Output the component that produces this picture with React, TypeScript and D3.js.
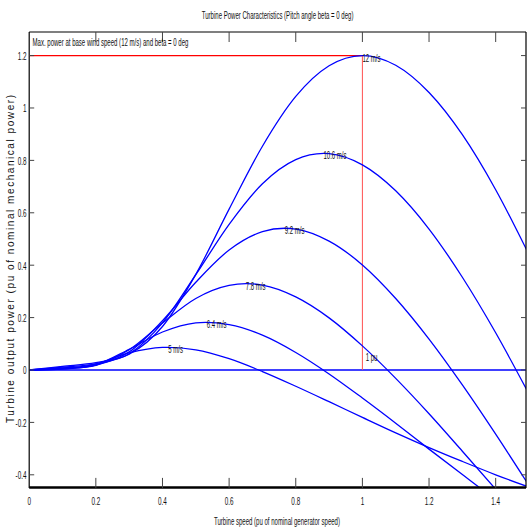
import React from "react";
import * as d3 from "d3";

// Turbine speed (pu) sample points
const speedPu = [0, 0.1, 0.2, 0.3, 0.4, 0.5, 0.6, 0.7, 0.8, 0.9, 1.0, 1.1, 1.2, 1.3, 1.4, 1.5];

// Turbine output power (pu) for each wind speed
const power12 = [0, 0.014, 0.028, 0.060, 0.166, 0.365, 0.614, 0.854, 1.044, 1.161, 1.200, 1.163, 1.059, 0.898, 0.688, 0.440];
const power106 = [0, 0.011, 0.023, 0.062, 0.180, 0.364, 0.556, 0.711, 0.803, 0.826, 0.783, 0.684, 0.538, 0.354, 0.142, -0.092];
const power92 = [0, 0.008, 0.019, 0.069, 0.188, 0.335, 0.458, 0.528, 0.538, 0.492, 0.401, 0.273, 0.118, -0.057, -0.245, -0.441];
const power78 = [0, 0.006, 0.018, 0.077, 0.179, 0.273, 0.323, 0.324, 0.279, 0.199, 0.092, -0.032, -0.167, -0.310, -0.455, -0.601];
const power64 = [0, 0.004, 0.020, 0.079, 0.145, 0.180, 0.173, 0.133, 0.067, -0.015, -0.107, -0.203, -0.302, -0.399, -0.495, -0.587];
const power5 = [0, 0.003, 0.023, 0.065, 0.086, 0.077, 0.043, -0.006, -0.062, -0.121, -0.181, -0.240, -0.296, -0.349, -0.400, -0.447];

const windLabels = ["12 m/s", "10.6 m/s", "9.2 m/s", "7.8 m/s", "6.4 m/s", "5 m/s"];
const peakSpeed = [1.0, 0.883, 0.767, 0.65, 0.533, 0.417];
const peakPower = [1.2, 0.827, 0.541, 0.33, 0.182, 0.087];

const xTicks = [0, 0.2, 0.4, 0.6, 0.8, 1, 1.2, 1.4];
const yTicks = [-0.4, -0.2, 0, 0.2, 0.4, 0.6, 0.8, 1, 1.2];

const maxPowerSpeed = 1.0;
const maxPower = 1.2;
const onePuLabelX = 1.01;
const onePuLabelY = 0.035;

const title = "Turbine Power Characteristics (Pitch angle beta = 0 deg)";
const annotation = "Max. power at base wind speed (12 m/s) and beta = 0 deg";
const xLabel = "Turbine speed (pu of nominal generator speed)";
const yLabel = "Turbine output power (pu of nominal mechanical power)";

const W = 528;
const H = 529;
const L = 29.2, R = 526, T = 32, B = 487.9;
const SX = 0.55;
const FONT = "'Liberation Sans', Arial, sans-serif";

function SText({ x, y, anchor = "start", size = 11, children }: any) {
  return (
    <text
      transform={`translate(${x},${y}) scale(${SX},1)`}
      textAnchor={anchor}
      fontSize={size}
      fontFamily={FONT}
      fill="#111"
    >
      {children}
    </text>
  );
}

export default function App() {
  const x = d3.scaleLinear().domain([0, 1.491]).range([L, R]);
  const y = d3.scaleLinear().domain([-0.45, 1.29]).range([B, T]);
  const series = [power12, power106, power92, power78, power64, power5];
  const line = d3
    .line<number>()
    .x((_, i) => x(speedPu[i]))
    .y((d) => y(d))
    .curve(d3.curveCatmullRom.alpha(0));

  return (
    <svg
      width={W}
      height={H}
      style={{ position: "absolute", left: 0, top: 0, background: "#fff" }}
    >
      <defs>
        <clipPath id="plotClip">
          <rect x={L} y={T} width={R - L} height={B - T} />
        </clipPath>
      </defs>
      <rect x={0} y={0} width={W} height={H} fill="#fff" />

      <g clipPath="url(#plotClip)">
        {/* zero line */}
        <line x1={x(0)} x2={R} y1={y(0)} y2={y(0)} stroke="#0000ff" strokeWidth={1.4} />
        {/* max power lines */}
        <line x1={x(0)} x2={x(maxPowerSpeed)} y1={y(maxPower)} y2={y(maxPower)} stroke="#ff0000" strokeWidth={1.3} />
        <line x1={x(maxPowerSpeed)} x2={x(maxPowerSpeed)} y1={y(maxPower)} y2={y(0)} stroke="#ff5050" strokeWidth={1} />
        {series.map((s, i) => (
          <path key={i} d={line(s) || ""} fill="none" stroke="#0000ff" strokeWidth={1.3} />
        ))}
      </g>

      {/* axes box */}
      <line x1={L} x2={L} y1={T} y2={B} stroke="#000" strokeWidth={1.2} />
      <line x1={L} x2={R} y1={T} y2={T} stroke="#000" strokeWidth={1.2} />
      <line x1={R} x2={R} y1={T} y2={B} stroke="#000" strokeWidth={1.2} />
      <line x1={L} x2={R} y1={B - 0.5} y2={B - 0.5} stroke="#000" strokeWidth={2.5} />

      {/* x ticks */}
      {xTicks.map((t) => (
        <g key={"xt" + t}>
          {t > 0 && (
            <>
              <line x1={x(t)} x2={x(t)} y1={B} y2={B - 10} stroke="#444" strokeWidth={1} />
              <line x1={x(t)} x2={x(t)} y1={T} y2={T + 10} stroke="#444" strokeWidth={1} />
            </>
          )}
          <SText x={x(t)} y={505} anchor="middle" size={11.5}>
            {String(t)}
          </SText>
        </g>
      ))}

      {/* y ticks */}
      {yTicks.map((t) => (
        <g key={"yt" + t}>
          <line x1={L} x2={L + 5} y1={y(t)} y2={y(t)} stroke="#444" strokeWidth={1} />
          <line x1={R} x2={R - 5} y1={y(t)} y2={y(t)} stroke="#444" strokeWidth={1} />
          <SText x={26.5} y={y(t) + 4.5} anchor="end" size={11.5}>
            {String(t)}
          </SText>
        </g>
      ))}

      {/* curve labels */}
      {windLabels.map((lab, i) => (
        <SText key={lab} x={x(peakSpeed[i])} y={y(peakPower[i]) + 6} size={11}>
          {lab}
        </SText>
      ))}
      <SText x={x(onePuLabelX)} y={y(onePuLabelY)} size={11}>
        1 pu
      </SText>

      {/* annotation */}
      <SText x={x(0.01)} y={y(1.25) + 4} size={11}>
        {annotation}
      </SText>

      {/* title and labels */}
      <SText x={(L + R) / 2} y={18.7} anchor="middle" size={11}>
        {title}
      </SText>
      <SText x={277} y={524.5} anchor="middle" size={11}>
        {xLabel}
      </SText>
      <text
        transform={`translate(14,259) rotate(-90)`}
        textAnchor="middle"
        fontSize={10}
        fontFamily={FONT}
        fill="#111"
        textLength={328}
        lengthAdjust="spacing"
      >
        {yLabel}
      </text>
    </svg>
  );
}
